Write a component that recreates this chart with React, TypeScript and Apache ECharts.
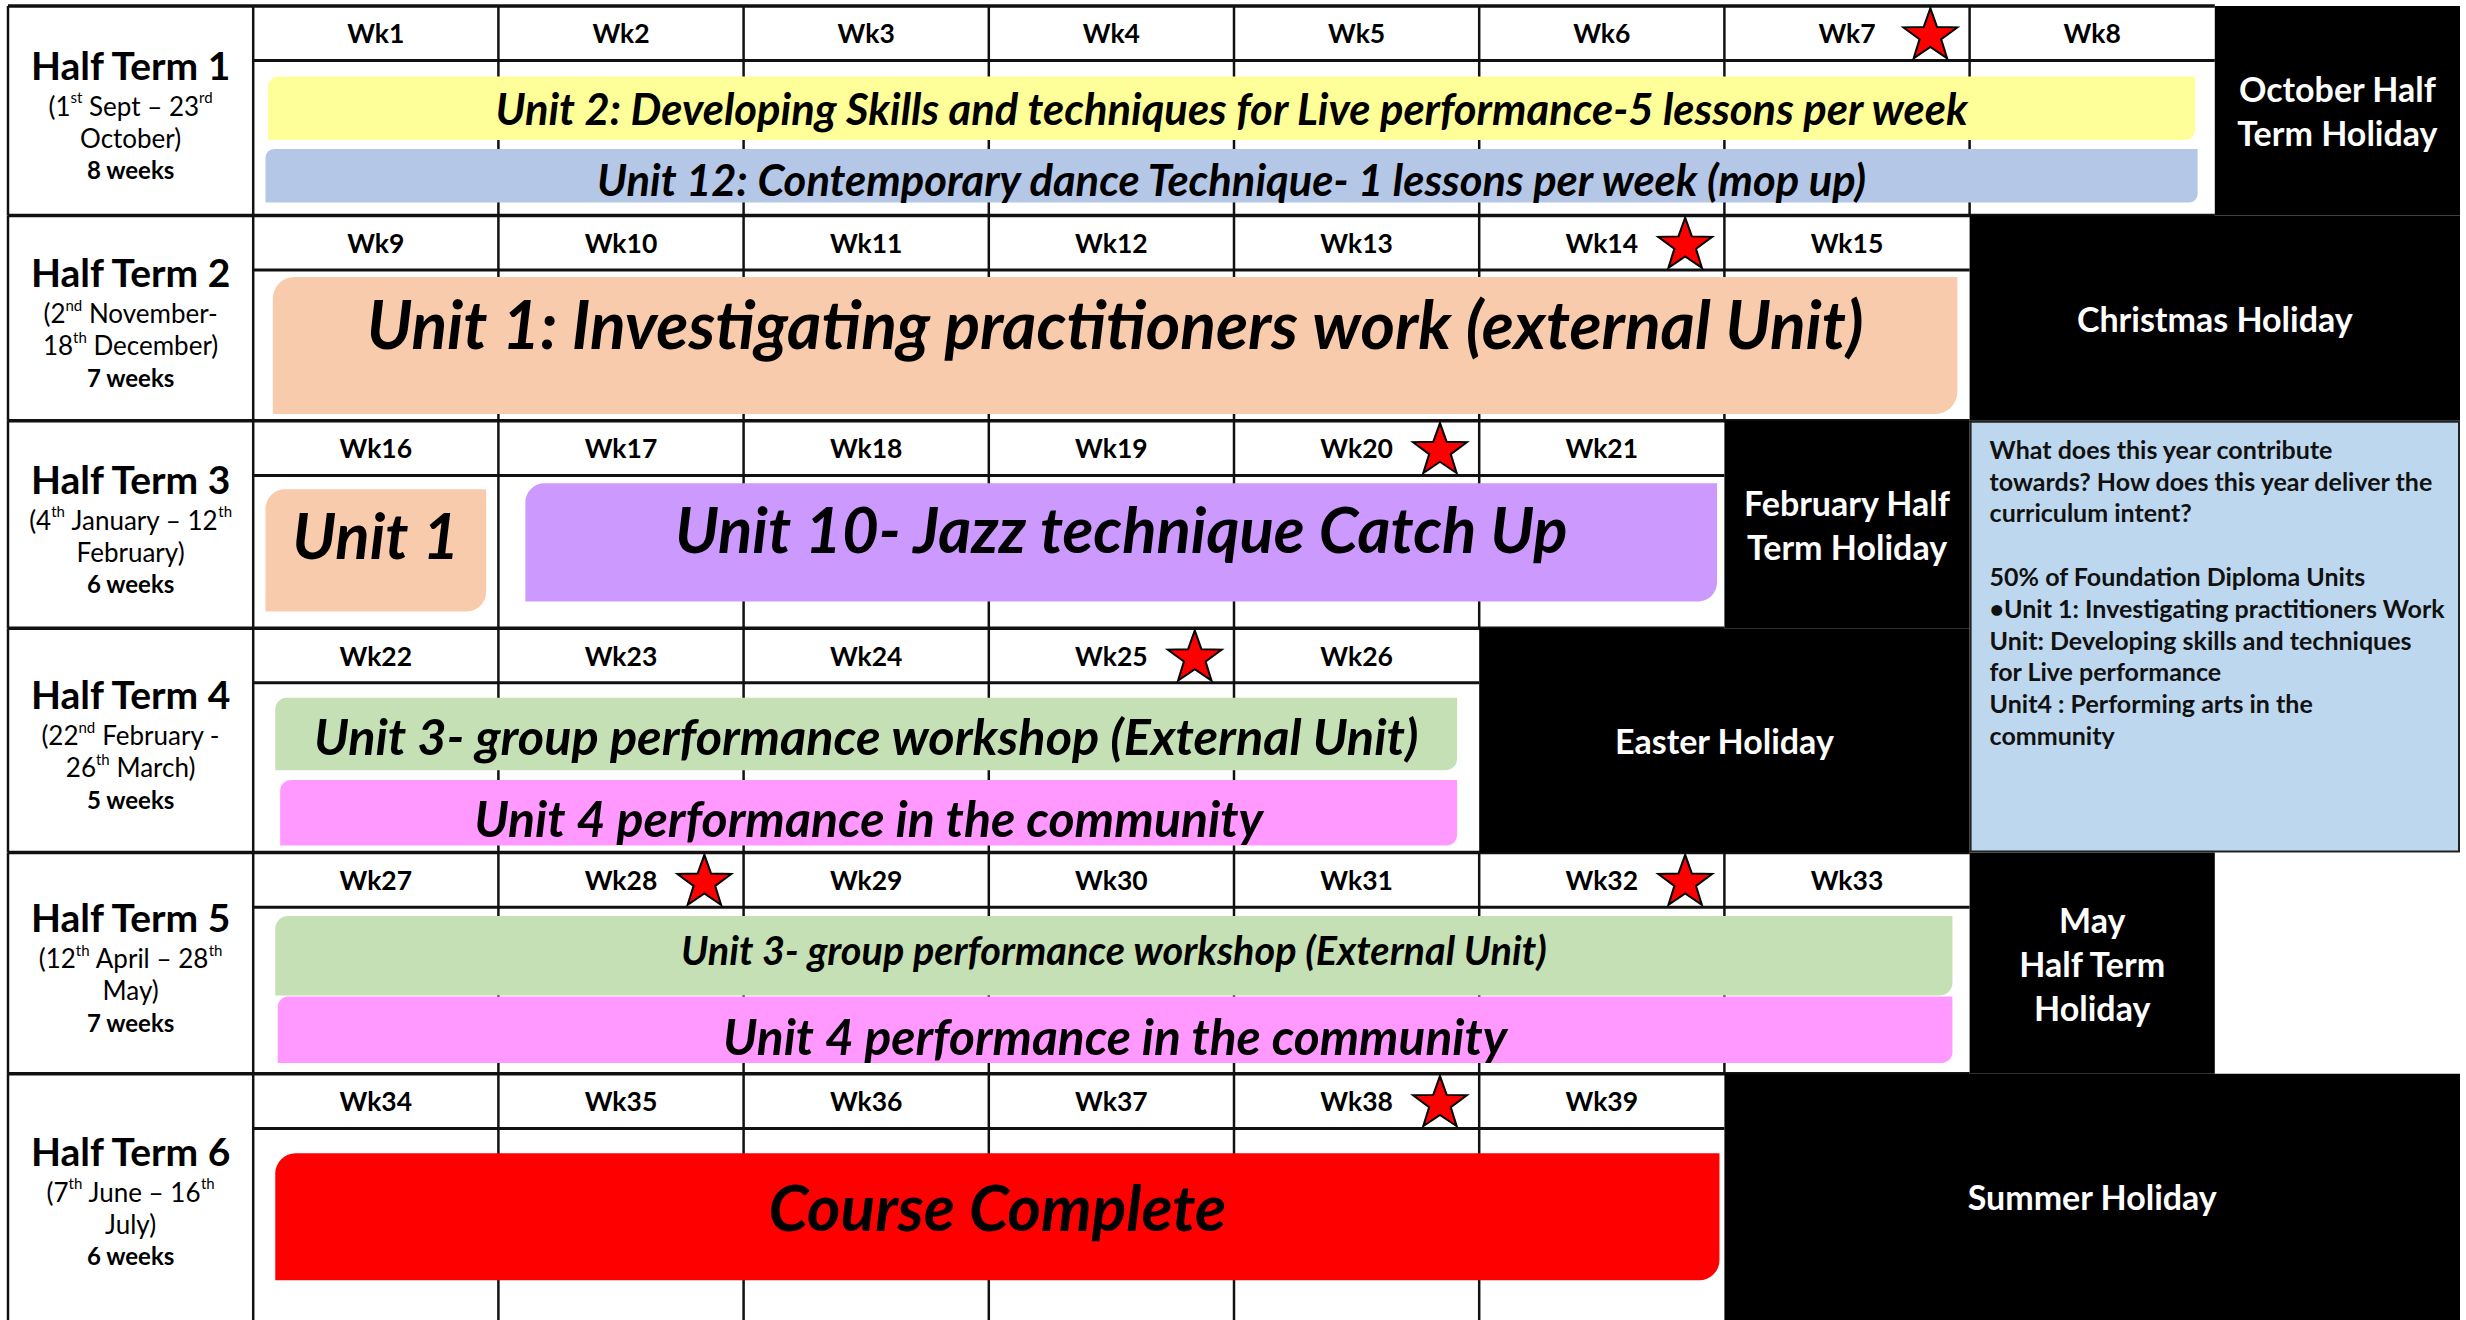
import { useEffect, useRef } from 'react';
import * as echarts from 'echarts';

// ---------------- data ----------------
const HALF_TERM_TITLES = ['Half Term 1', 'Half Term 2', 'Half Term 3', 'Half Term 4', 'Half Term 5', 'Half Term 6'];
const HALF_TERM_DATES = [
  ['(1^st^ Sept – 23^rd^', 'October)'],
  ['(2^nd^ November-', '18^th^ December)'],
  ['(4^th^ January – 12^th^', 'February)'],
  ['(22^nd^ February -', '26^th^ March)'],
  ['(12^th^ April – 28^th^', 'May)'],
  ['(7^th^ June – 16^th^', 'July)'],
];
const HALF_TERM_LENGTHS = ['8 weeks', '7 weeks', '6 weeks', '5 weeks', '7 weeks', '6 weeks'];
const WEEKS_PER_HALF_TERM = [8, 7, 6, 5, 7, 6];
const STAR_WEEKS = [7, 14, 20, 25, 28, 32, 38];

const UNIT_NAMES = [
  'Unit 2: Developing Skills and techniques for Live performance-5 lessons per week',
  'Unit 12: Contemporary dance Technique- 1 lessons per week (mop up)',
  'Unit 1: Investigating practitioners work (external Unit)',
  'Unit 1',
  'Unit 10- Jazz technique Catch Up',
  'Unit 3- group performance workshop (External Unit)',
  'Unit 4 performance in the community',
  'Unit 3- group performance workshop (External Unit)',
  'Unit 4 performance in the community',
  'Course Complete',
];
const UNIT_HALF_TERM = [0, 0, 1, 2, 2, 3, 3, 4, 4, 5];
const UNIT_START = [1.06, 1.05, 1.08, 1.05, 2.11, 1.09, 1.11, 1.09, 1.10, 1.09];
const UNIT_END = [8.92, 8.93, 7.95, 1.95, 6.97, 5.91, 5.91, 7.93, 7.93, 6.98];

const HOLIDAY_NAMES = [
  'October Half\nTerm Holiday',
  'Christmas Holiday',
  'February Half\nTerm Holiday',
  'Easter Holiday',
  'May\nHalf Term\nHoliday',
  'Summer Holiday',
];
const HOLIDAY_END = [10, 10, 8, 8, 9, 10];

const INTENT_LINES = [
  'What does this year contribute',
  'towards? How does this year deliver the',
  'curriculum intent?',
  '',
  '50% of Foundation Diploma Units',
  '•Unit 1: Investigating practitioners Work',
  'Unit: Developing skills and techniques',
  'for Live performance',
  'Unit4 : Performing arts in the',
  'community',
];
const INTENT_FROM_COL = 8;
const INTENT_TO_COL = 10;
const INTENT_ROWS = [2, 3];

// ---------------- layout / style ----------------
const ROW_TOP = [0, 211, 418, 627, 853, 1076];
const TABLE_BOTTOM = 1324;
const HEADER_H = 55;
const UNIT_BANDS = [[71, 135], [144, 198], [62, 200], [69, 192], [63, 182], [70, 143], [153, 219], [64, 144], [145, 212], [80, 208]];
const UNIT_COLORS = ['#FFFF99', '#B4C7E7', '#F8CBAD', '#F8CBAD', '#CC99FF', '#C5E0B4', '#FF99FF', '#C5E0B4', '#FF99FF', '#FF0000'];
const UNIT_FONT = [43.5, 43.5, 66, 63.5, 63.5, 50.5, 50, 39.6, 49.7, 64];
const UNIT_TEXT_DY = [0, 3, -22, -16, -14, 2, 5, -6, 6, -10];
const FONT = 'Lato, "Open Sans", sans-serif';
const LINE = '#111';
const STAR_PATH =
  'path://M50,0 L61.76,33.82 L97.55,34.55 L69.02,56.18 L79.39,90.45 L50,70 L20.61,90.45 L30.98,56.18 L2.45,34.55 L38.24,33.82 Z';

const rowBottom = (r: number) => (r < ROW_TOP.length - 1 ? ROW_TOP[r + 1] : TABLE_BOTTOM);

function dateRich(line: string) {
  return line
    .split('^')
    .map((seg, i) => (seg ? (i % 2 ? `{sup|${seg}}` : `{s|${seg}}`) : ''))
    .join('');
}

// week label positions
const WEEK_ITEMS: { label: string; row: number; col: number }[] = [];
{
  let n = 1;
  WEEKS_PER_HALF_TERM.forEach((cnt, r) => {
    for (let c = 1; c <= cnt; c++) {
      WEEK_ITEMS.push({ label: 'Wk' + n, row: r, col: c });
      n++;
    }
  });
}

export default function App() {
  const ref = useRef<HTMLDivElement>(null);
  useEffect(() => {
    if (!ref.current) return;
    const chart = echarts.init(ref.current, null, { renderer: 'svg' });

    const tableRender = (params: any, api: any) => {
      const r = params.dataIndex;
      const top = ROW_TOP[r];
      const bottom = rowBottom(r);
      const whiteEnd = WEEKS_PER_HALF_TERM[r] + 1;
      const prevWhite = r > 0 ? WEEKS_PER_HALF_TERM[r - 1] + 1 : whiteEnd;
      const [x0, y0] = api.coord([0, top]);
      const [x1, y1] = api.coord([whiteEnd, bottom]);
      const children: any[] = [];
      children.push({ type: 'rect', shape: { x: x0, y: y0, width: x1 - x0, height: y1 - y0 }, style: { fill: '#fff' } });
      for (let c = 0; c < whiteEnd; c++) {
        const x = api.coord([c, top])[0];
        children.push({ type: 'line', shape: { x1: x, y1: y0, x2: x, y2: y1 }, style: { stroke: LINE, lineWidth: 2.5 } });
      }
      const hy = api.coord([0, top + HEADER_H])[1];
      const xh0 = api.coord([1, top])[0];
      children.push({ type: 'line', shape: { x1: xh0, y1: hy, x2: x1, y2: hy }, style: { stroke: LINE, lineWidth: 3 } });
      const xt1 = api.coord([Math.max(whiteEnd, prevWhite), top])[0];
      children.push({ type: 'line', shape: { x1: x0, y1: y0, x2: xt1, y2: y0 }, style: { stroke: LINE, lineWidth: 3.5 } });
      return { type: 'group', children };
    };

    const holidayRender = (params: any, api: any) => {
      const r = params.dataIndex;
      const from = WEEKS_PER_HALF_TERM[r] + 1;
      const [x0, y0] = api.coord([from, ROW_TOP[r]]);
      const [x1, y1] = api.coord([HOLIDAY_END[r], rowBottom(r)]);
      return {
        type: 'group',
        children: [
          { type: 'rect', shape: { x: x0, y: y0, width: x1 - x0, height: y1 - y0 }, style: { fill: '#000' } },
          {
            type: 'text',
            x: (x0 + x1) / 2,
            y: (y0 + y1) / 2,
            style: {
              text: HOLIDAY_NAMES[r],
              fill: '#fff',
              fontFamily: FONT,
              fontWeight: 'bold',
              fontSize: 34,
              lineHeight: 44,
              align: 'center',
              verticalAlign: 'middle',
            },
          },
        ],
      };
    };

    const intentRender = (_params: any, api: any) => {
      const [x0, y0] = api.coord([INTENT_FROM_COL, ROW_TOP[INTENT_ROWS[0]]]);
      const [x1, y1] = api.coord([INTENT_TO_COL, rowBottom(INTENT_ROWS[1])]);
      return {
        type: 'group',
        children: [
          {
            type: 'rect',
            shape: { x: x0 + 1, y: y0 + 1, width: x1 - x0 - 2, height: y1 - y0 - 2 },
            style: { fill: '#BDD7EE', stroke: '#222', lineWidth: 2 },
          },
          {
            type: 'text',
            x: x0 + 20,
            y: y0 + 12,
            style: {
              text: INTENT_LINES.join('\n'),
              fill: '#111',
              fontFamily: FONT,
              fontWeight: 'bold',
              fontSize: 25,
              lineHeight: 31.8,
              align: 'left',
              verticalAlign: 'top',
            },
          },
        ],
      };
    };

    const unitRender = (params: any, api: any) => {
      const i = params.dataIndex;
      const top = ROW_TOP[UNIT_HALF_TERM[i]];
      const [x0, y0] = api.coord([UNIT_START[i], top + UNIT_BANDS[i][0]]);
      const [x1, y1] = api.coord([UNIT_END[i], top + UNIT_BANDS[i][1]]);
      const h = y1 - y0;
      const rr = Math.min(h * 0.16, 22);
      return {
        type: 'group',
        children: [
          {
            type: 'rect',
            shape: { x: x0, y: y0, width: x1 - x0, height: h, r: [rr, 0, rr, 0] },
            style: { fill: UNIT_COLORS[i] },
          },
          {
            type: 'text',
            x: (x0 + x1) / 2,
            y: (y0 + y1) / 2 + UNIT_TEXT_DY[i],
            style: {
              text: UNIT_NAMES[i],
              fill: '#000',
              fontFamily: FONT,
              fontWeight: 'bold',
              fontStyle: 'italic',
              fontSize: UNIT_FONT[i],
              align: 'center',
              verticalAlign: 'middle',
            },
          },
        ],
      };
    };

    const weekRender = (params: any, api: any) => {
      const w = WEEK_ITEMS[params.dataIndex];
      const [x, y] = api.coord([w.col + 0.5, ROW_TOP[w.row] + HEADER_H / 2]);
      return {
        type: 'text',
        x,
        y,
        style: {
          text: w.label,
          fill: '#000',
          fontFamily: FONT,
          fontWeight: 'bold',
          fontSize: 26.5,
          align: 'center',
          verticalAlign: 'middle',
        },
      };
    };

    const labelRender = (params: any, api: any) => {
      const r = params.dataIndex;
      const [x, y] = api.coord([0.5, (ROW_TOP[r] + rowBottom(r)) / 2 + 2]);
      const text =
        `{t|${HALF_TERM_TITLES[r]}}\n` +
        HALF_TERM_DATES[r].map(dateRich).join('\n') +
        `\n{b|${HALF_TERM_LENGTHS[r]}}`;
      return {
        type: 'text',
        x,
        y,
        style: {
          text,
          align: 'center',
          verticalAlign: 'middle',
          fill: '#000',
          fontFamily: FONT,
          rich: {
            t: { fontFamily: FONT, fontWeight: 'bold', fontSize: 39, lineHeight: 50, fill: '#000' },
            s: { fontFamily: FONT, fontSize: 26, lineHeight: 32, fill: '#000' },
            sup: { fontFamily: FONT, fontSize: 15, lineHeight: 16, verticalAlign: 'top', fill: '#000' },
            b: { fontFamily: FONT, fontWeight: 'bold', fontSize: 24, lineHeight: 32, fill: '#000' },
          },
        },
      };
    };

    // star positions derived from week numbers
    const starData = STAR_WEEKS.map((wk) => {
      const w = WEEK_ITEMS[wk - 1];
      return [w.col + 0.84, ROW_TOP[w.row] + HEADER_H / 2];
    });

    chart.setOption({
      animation: false,
      backgroundColor: '#fff',
      grid: { left: 8, top: 6, width: 2452, height: 1324 },
      xAxis: { type: 'value', min: 0, max: 10, show: false },
      yAxis: { type: 'value', min: 0, max: TABLE_BOTTOM, inverse: true, show: false },
      series: [
        { type: 'custom', z: 1, clip: false, silent: true, renderItem: tableRender, data: ROW_TOP.map((t) => [0, t]) },
        { type: 'custom', z: 2, clip: false, silent: true, renderItem: holidayRender, data: HOLIDAY_END.map((e, i) => [e, ROW_TOP[i]]) },
        { type: 'custom', z: 2, clip: false, silent: true, renderItem: intentRender, data: [[INTENT_FROM_COL, ROW_TOP[INTENT_ROWS[0]]]] },
        { type: 'custom', z: 3, clip: false, silent: true, renderItem: unitRender, data: UNIT_START.map((s, i) => [s, ROW_TOP[UNIT_HALF_TERM[i]]]) },
        { type: 'custom', z: 3, clip: false, silent: true, renderItem: weekRender, data: WEEK_ITEMS.map((w) => [w.col, ROW_TOP[w.row]]) },
        { type: 'custom', z: 3, clip: false, silent: true, renderItem: labelRender, data: ROW_TOP.map((t) => [0, t]) },
        {
          type: 'scatter',
          z: 4,
          silent: true,
          symbol: STAR_PATH,
          symbolSize: [54, 50],
          symbolKeepAspect: false,
          itemStyle: { color: '#FF0000', borderColor: '#000', borderWidth: 2, opacity: 1 },
          data: starData,
        },
      ],
    });
    return () => chart.dispose();
  }, []);

  return <div ref={ref} style={{ position: 'fixed', left: 0, top: 0, width: 2466, height: 1320 }} />;
}
